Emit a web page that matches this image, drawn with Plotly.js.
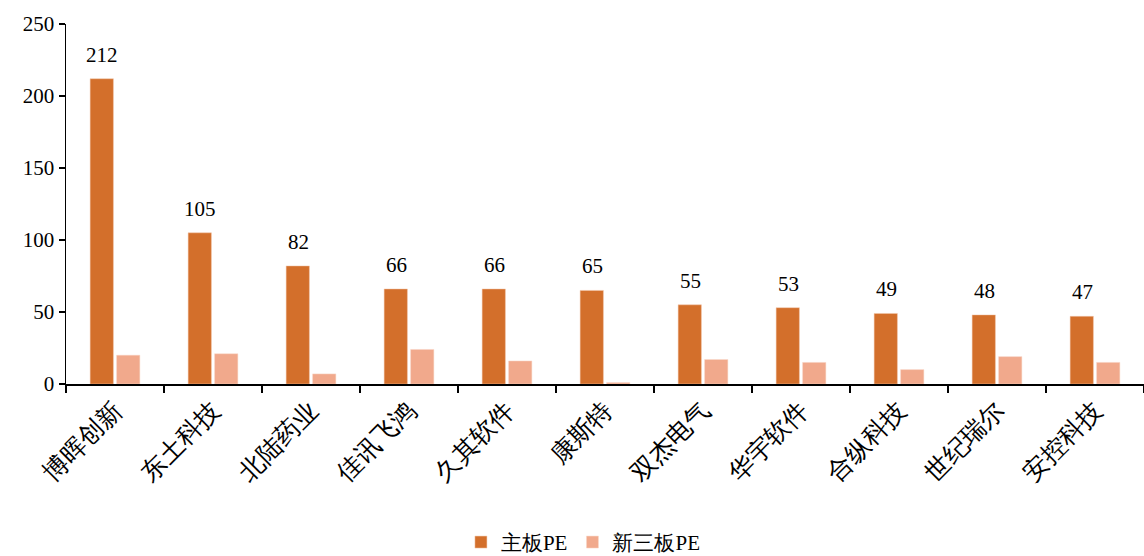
<!DOCTYPE html>
<html>
<head>
<meta charset="utf-8">
<script src="https://cdn.plot.ly/plotly-3.0.1.min.js"></script>
<style>html,body{margin:0;padding:0;background:#fff;}#chart{width:1144px;height:556px;}</style>
</head>
<body>
<div id="chart"></div>
<script>
const categories = ["博晖创新","东土科技","北陆药业","佳讯飞鸿","久其软件","康斯特","双杰电气","华宇软件","合纵科技","世纪瑞尔","安控科技"];
const mainBoardPE = [212,105,82,66,66,65,55,53,49,48,47];
const neeqPE = [20,21,7,24,16,1,17,15,10,19,15];
const seriesNames = ["主板PE","新三板PE"];

const FONT = "Liberation Serif";

const traces = [
  {type:'bar', name:seriesNames[0], x:categories, y:mainBoardPE, marker:{color:'#D36F2B', line:{color:'#F3C9AE', width:0.5}}},
  {type:'bar', name:seriesNames[1], x:categories, y:neeqPE, marker:{color:'#F1A98C', line:{color:'#F8D8CA', width:0.5}}}
];

const annotations = categories.map((c,i)=>({
  x:c, y:mainBoardPE[i], xref:'x', yref:'y', text:String(mainBoardPE[i]),
  showarrow:false, xanchor:'center', yanchor:'bottom', xshift:-13, yshift:10,
  font:{family:FONT, size:21, color:'#000'}
}));

const layout = {
  width:1144, height:556,
  margin:{l:66, r:0, t:24, b:172, autoexpand:false},
  paper_bgcolor:'#fff', plot_bgcolor:'#fff',
  font:{family:FONT, size:20, color:'#000'},
  barmode:'group', bargap:0.46, bargroupgap:0.12,
  showlegend:true,
  legend:{orientation:'h', x:0.48, xanchor:'center', y:-0.44, yanchor:'middle',
          font:{family:FONT, size:21, color:'#000'}, itemwidth:30, traceorder:'normal'},
  xaxis:{type:'category', automargin:false, showline:true, linecolor:'#000', linewidth:1.5,
         ticks:'outside', tickson:'boundaries', ticklen:7, tickcolor:'#000', tickwidth:1.5,
         tickangle:-45, tickfont:{family:FONT, size:25, color:'#000'}, showgrid:false, zeroline:false},
  yaxis:{range:[0,250], dtick:50, automargin:false, showline:true, linecolor:'#000', linewidth:1.5,
         ticks:'outside', ticklen:6, tickcolor:'#000', tickwidth:1.5,
         tickfont:{family:FONT, size:21, color:'#000'}, showgrid:false, zeroline:false},
  annotations:annotations
};

Plotly.newPlot('chart', traces, layout, {displayModeBar:false, staticPlot:true});
</script>
</body>
</html>
